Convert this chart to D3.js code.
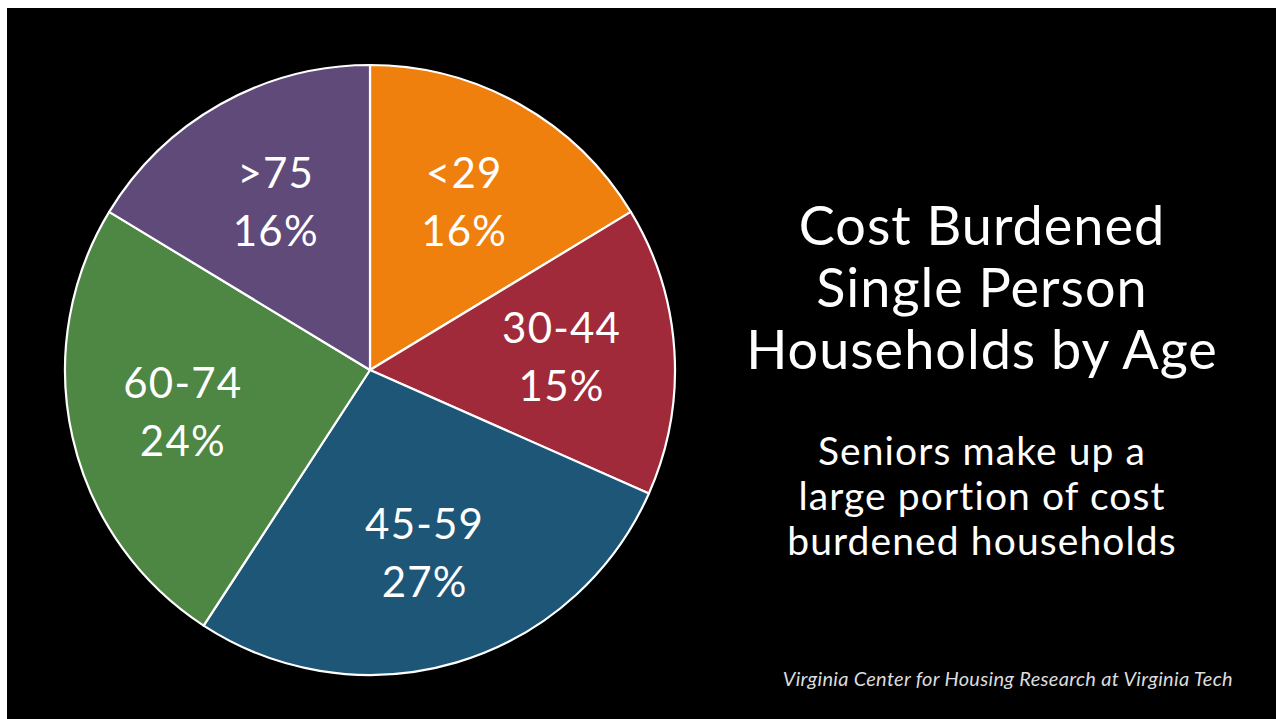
<!DOCTYPE html>
<html>
<head>
<meta charset="utf-8">
<script src="https://cdn.jsdelivr.net/npm/d3@7"></script>
<style>
  html, body { margin: 0; padding: 0; background: #fff; }
  svg { display: block; }
  text { font-family: Lato, "Open Sans", sans-serif; fill: #fff; }
</style>
</head>
<body>
<svg id="chart" width="1276" height="719"></svg>
<script>
// data
var ages = ["<29", "30-44", "45-59", "60-74", ">75"];
var shares = [16, 15, 27, 24, 16];
var sliceColors = ["#ef800e", "#a02a3a", "#1e5678", "#4e8643", "#604a7a"];

var titleLines = ["Cost Burdened", "Single Person", "Households by Age"];
var noteLines = ["Seniors make up a", "large portion of cost", "burdened households"];
var credit = "Virginia Center for Housing Research at Virginia Tech";

var width = 1276, height = 719,
    cx = 370, cy = 370, radius = 305;

var svg = d3.select("#chart");

svg.append("rect")
    .attr("x", 7)
    .attr("y", 8)
    .attr("width", width - 7)
    .attr("height", height - 8)
    .attr("fill", "#000");

var rows = ages.map(function(a, i) { return {age: a, share: shares[i]}; });

var color = d3.scaleOrdinal().domain(ages).range(sliceColors);

var pie = d3.pie()
    .sort(null)
    .value(function(d) { return d.share; });

var arc = d3.arc().innerRadius(0).outerRadius(radius);
var labelArc = d3.arc().innerRadius(192).outerRadius(192);

var g = svg.append("g").attr("transform", "translate(" + cx + "," + cy + ")");

var slices = g.selectAll("g.slice")
    .data(pie(rows))
    .enter().append("g")
      .attr("class", "slice");

slices.append("path")
    .attr("d", arc)
    .attr("fill", function(d) { return color(d.data.age); })
    .attr("stroke", "#fff")
    .attr("stroke-width", 2.2)
    .attr("stroke-linejoin", "round");

var lbl = slices.append("text")
    .attr("transform", function(d) { return "translate(" + labelArc.centroid(d) + ")"; })
    .attr("text-anchor", "middle")
    .attr("font-size", 42)
    .attr("letter-spacing", 1.2);

lbl.append("tspan")
    .attr("x", 0)
    .attr("y", -15)
    .text(function(d) { return d.data.age; });

lbl.append("tspan")
    .attr("x", 0)
    .attr("y", 43)
    .text(function(d) { return d.data.share + "%"; });

// title block
var tx = 982;
svg.append("text")
    .attr("text-anchor", "middle")
    .attr("font-size", 54)
    .attr("letter-spacing", 1)
    .selectAll("tspan")
    .data(titleLines)
    .enter().append("tspan")
      .attr("x", tx)
      .attr("y", function(d, i) { return 245 + i * 62; })
      .text(function(d) { return d; });

svg.append("text")
    .attr("text-anchor", "middle")
    .attr("font-size", 39)
    .attr("letter-spacing", 1.1)
    .selectAll("tspan")
    .data(noteLines)
    .enter().append("tspan")
      .attr("x", tx)
      .attr("y", function(d, i) { return 465 + i * 45; })
      .text(function(d) { return d; });

svg.append("text")
    .attr("x", 1233)
    .attr("y", 686)
    .attr("text-anchor", "end")
    .attr("font-size", 20)
    .attr("font-style", "italic")
    .attr("letter-spacing", 0.3)
    .style("fill", "#dcdcdc")
    .text(credit);
</script>
</body>
</html>
